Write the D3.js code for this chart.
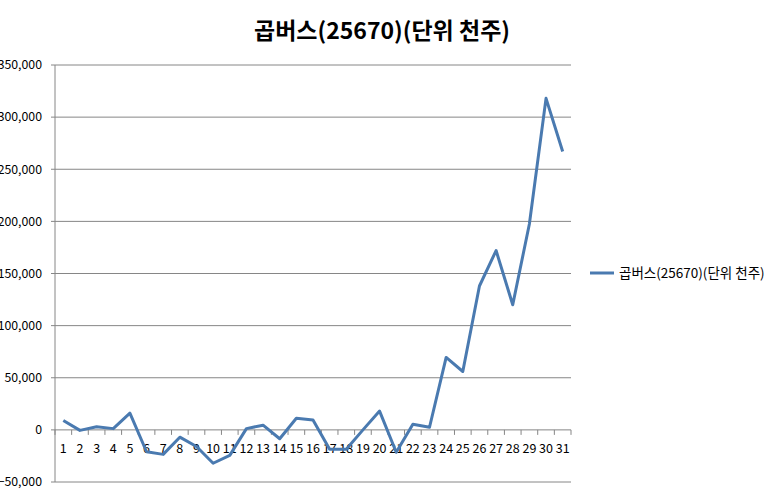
<!DOCTYPE html>
<html>
<head>
<meta charset="utf-8">
<script src="https://cdn.jsdelivr.net/npm/d3@7"></script>
<style>
  body { margin: 0; background: #fff; }
  svg { display: block; font-family: "Noto Sans CJK KR", "Noto Sans", sans-serif; }
</style>
</head>
<body>
<div id="chart"></div>
<script>
"use strict";

const title = "곱버스(25670)(단위 천주)";
const days = d3.range(1, 32).map(String);
const values = [
    9000, -500, 3000, 1200, 16000, -21000, -23500, -7000, -16000, -32000,
    -24500, 1200, 4500, -8500, 11200, 9500, -18500, -18500, 0, 18000,
    -21500, 5400, 2500, 69500, 56000, 138000, 172000, 120000, 197500, 318000,
    267000
];
const yTicks = [-50000, 0, 50000, 100000, 150000, 200000, 250000, 300000, 350000];

const drawLine = () => {
    const W = 764, H = 494;
    const margin = { top: 65, left: 55, right: 193, bottom: 12 };
    const width = 571 - margin.left;
    const height = 482 - margin.top;
    const color = "#4a7ab0";

    const svg = d3.select("#chart").append("svg")
                  .attr("width", W)
                  .attr("height", H);

    const xScale = d3.scaleBand()
                     .domain(days)
                     .range([0, width]);
    const yScale = d3.scaleLinear()
                     .domain([-50000, 350000])
                     .range([height, 0]);

    const g = svg.append("g")
                 .attr("transform", `translate(${margin.left}, ${margin.top})`);

    // gridlines + y axis
    g.append("g")
     .selectAll("line").data(yTicks).enter()
     .append("line")
     .attr("x1", -4).attr("x2", width)
     .attr("y1", d => yScale(d)).attr("y2", d => yScale(d))
     .attr("stroke", "#868686").attr("stroke-width", 1);
    g.append("line")
     .attr("x1", 0).attr("x2", 0)
     .attr("y1", 0).attr("y2", height)
     .attr("stroke", "#868686");
    // labels are cut at the left edge, as in the source chart
    g.append("g")
     .selectAll("text").data(yTicks).enter()
     .append("text")
     .attr("x", -13)
     .attr("y", d => yScale(d))
     .attr("dy", "0.35em")
     .attr("text-anchor", "end")
     .attr("font-size", 12.3)
     .attr("fill", "#000")
     .text(d => d3.format(",")(d));

    // category axis on the zero line
    const y0 = yScale(0);
    const bounds = days.map(d => xScale(d)).concat([width]);
    g.append("g")
     .selectAll("line").data(bounds).enter()
     .append("line")
     .attr("x1", d => d).attr("x2", d => d)
     .attr("y1", y0).attr("y2", y0 + 5)
     .attr("stroke", "#868686");
    g.append("g")
     .selectAll("text").data(days).enter()
     .append("text")
     .attr("x", d => xScale(d) + xScale.bandwidth() / 2)
     .attr("y", y0 + 23)
     .attr("text-anchor", "middle")
     .attr("font-size", 12.5)
     .attr("fill", "#000")
     .text(d => d);

    // series
    const line = d3.line()
                   .x((d, i) => xScale(days[i]) + xScale.bandwidth() / 2)
                   .y(d => yScale(d));
    g.append("path")
     .datum(values)
     .attr("d", line)
     .attr("fill", "none")
     .attr("stroke", color)
     .attr("stroke-width", 3)
     .attr("stroke-linejoin", "round");

    // title
    svg.append("text")
       .attr("x", 382).attr("y", 39)
       .attr("text-anchor", "middle")
       .attr("font-size", 23)
       .attr("font-weight", "bold")
       .text(title);

    // legend
    svg.append("line")
       .attr("x1", 590).attr("x2", 614)
       .attr("y1", 273).attr("y2", 273)
       .attr("stroke", color).attr("stroke-width", 3);
    svg.append("text")
       .attr("x", 619).attr("y", 273)
       .attr("dy", "0.35em")
       .attr("font-size", 13.5)
       .text(title);
};

drawLine();
</script>
</body>
</html>
